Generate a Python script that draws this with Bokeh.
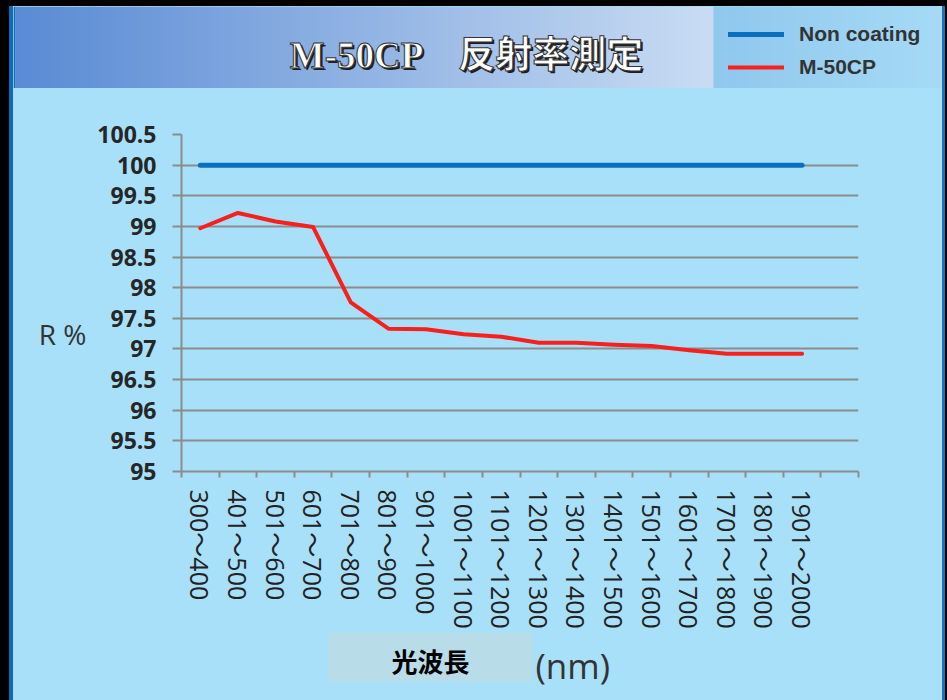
from bokeh.plotting import figure
from bokeh.layouts import column, row
from bokeh.models import (Range1d, FixedTicker, Label, Legend, LegendItem,
                          GlobalInlineStyleSheet)
from bokeh.embed import file_html
from bokeh.resources import INLINE

# ---------------- data ----------------
categories = ["300～400", "401～500", "501～600", "601～700", "701～800",
              "801～900", "901～1000", "1001～1100", "1101～1200", "1201～1300",
              "1301～1400", "1401～1500", "1501～1600", "1601～1700",
              "1701～1800", "1801～1900", "1901～2000"]
non_coating = [100, 100, 100, 100, 100, 100, 100, 100, 100, 100, 100, 100,
               100, 100, 100, 100, 100]
m50cp = [98.97, 99.22, 99.08, 98.99, 97.76, 97.33, 97.32, 97.24, 97.20,
         97.10, 97.10, 97.07, 97.05, 96.98, 96.92, 96.92, 96.92]
y_ticks = [95.0, 95.5, 96.0, 96.5, 97.0, 97.5, 98.0, 98.5, 99.0, 99.5,
           100.0, 100.5]
y_tick_labels = ["95", "95.5", "96", "96.5", "97", "97.5", "98", "98.5",
                 "99", "99.5", "100", "100.5"]
series_names = ["Non coating", "M-50CP"]
title_text = "M-50CP　反射率測定"
y_label = "R %"
x_label_box = "光波長"
x_label_unit = "(nm)"

# ---------------- style ----------------
PANEL = "#a9e0f9"
GRID = "#8c8c8c"
BLUE = "#0b6fbf"
RED = "#f8201c"
EDGE_BLUE = "#0e6cb4"
EDGE_BLUE_R = "#1a74ba"

# page geometry (pixels of the 947x700 page)
PAD_L, PAD_T, PAD_R = 13, 6, 5          # slide border drawn by the page background
TOTAL_W, TOTAL_H = 947, 700
IN_W = TOTAL_W - PAD_L - PAD_R          # 929
HEAD_B = 88
CHART_B = 632
LEFT_R = 90
FRAME_L, FRAME_R, FRAME_T, FRAME_B = 181, 858, 134, 471
HEAD_H = HEAD_B - PAD_T
MID_H = CHART_B - HEAD_B
BOT_H = TOTAL_H - CHART_B
LEFT_W = LEFT_R - PAD_L
CHART_W = IN_W - LEFT_W


def deco_fig(w, h, bg=PANEL):
    f = figure(width=w, height=h, output_backend="svg", toolbar_location=None,
               x_range=Range1d(0, w), y_range=Range1d(h, 0),
               x_axis_location=None, y_axis_location=None, min_border=0,
               background_fill_color=bg, border_fill_color=bg,
               outline_line_color=None)
    f.grid.visible = False
    return f


def boxes(f, ox, oy, rects):
    # rects in page pixels: (x0, y0, x1, y1, color)
    f.quad(left=[r[0] - ox for r in rects], right=[r[2] - ox for r in rects],
           top=[r[1] - oy for r in rects], bottom=[r[3] - oy for r in rects],
           fill_color=[r[4] for r in rects], line_color=None)


def lerp_hex(c0, c1, t):
    a = [int(c0[i:i + 2], 16) for i in (1, 3, 5)]
    b = [int(c1[i:i + 2], 16) for i in (1, 3, 5)]
    return "#%02x%02x%02x" % tuple(round(a[k] + (b[k] - a[k]) * t) for k in range(3))


def gradient_rects(x0, x1, y0, y1, c0, c1, step=6):
    n = (x1 - x0 + step - 1) // step
    out = []
    for i in range(n):
        a = x0 + i * step
        b = min(x1, a + step + 1)
        out.append((a, y0, b, y1, lerp_hex(c0, c1, i / max(1, n - 1))))
    return out


def label(f, ox, oy, text, x, y, **kw):
    f.add_layout(Label(x=x - ox, y=y - oy, text=text, **kw))


# ---------------- header ----------------
head = deco_fig(IN_W, HEAD_H, bg="#a6daf6")
rects = [(PAD_L, PAD_T, 15, HEAD_B, EDGE_BLUE)]
rects += gradient_rects(15, 713, PAD_T, HEAD_B, "#5a8bd4", "#c9dcf3")
rects += gradient_rects(713, 942, PAD_T, HEAD_B, "#90c7ed", "#a6daf6", step=8)
boxes(head, PAD_L, PAD_T, rects)

TITLE_FONT = "Liberation Serif, Noto Sans CJK JP"
has_outline = "text_outline_color" in Label.properties()
title_kw = dict(text_align="center", text_baseline="middle", text_font=TITLE_FONT,
                text_font_style="bold", text_font_size="37px")
label(head, PAD_L, PAD_T, title_text, 469, 57, text_color="#1e1e1e", **title_kw)
if not has_outline:
    for dx, dy in [(-1, -1), (1, 1), (-1, 1), (1, -1)]:
        label(head, PAD_L, PAD_T, title_text, 467 + dx, 55 + dy,
              text_color="#333333", **title_kw)
t = Label(x=467 - PAD_L, y=55 - PAD_T, text=title_text, text_color="#ffffff",
          **title_kw)
if has_outline:
    t.text_outline_color = "#333333"
head.add_layout(t)

# legend: its glyphs come from renderers carrying the two series' styles
lg_blue = head.line([-60, -50], [-60, -50], line_color=BLUE, line_width=5,
                    line_cap="round")
lg_red = head.line([-60, -50], [-60, -50], line_color=RED, line_width=4,
                   line_cap="round")
legend = Legend(items=[LegendItem(label=series_names[0], renderers=[lg_blue]),
                       LegendItem(label=series_names[1], renderers=[lg_red])],
                location=(728 - PAD_L, HEAD_B - 79), orientation="vertical",
                background_fill_alpha=0, border_line_color=None,
                padding=0, margin=0, spacing=9,
                glyph_width=56, glyph_height=22, label_height=22,
                label_standoff=15,
                label_text_font="Liberation Sans", label_text_font_style="bold",
                label_text_font_size="21px", label_text_color="#333333")
head.add_layout(legend)

# ---------------- left strip with "R %" ----------------
left = deco_fig(LEFT_W, MID_H)
label(left, PAD_L, HEAD_B, y_label, 62, 333, text_align="center",
      text_baseline="middle", text_font="Open Sans", text_font_size="28px",
      text_color="#333333")

# ---------------- chart ----------------
xs = [i + 0.5 for i in range(len(categories))]
p = figure(width=CHART_W, height=MID_H, output_backend="svg",
           toolbar_location=None,
           x_range=Range1d(0, len(categories) + 1),
           y_range=Range1d(y_ticks[0], y_ticks[-1]),
           min_border_left=FRAME_L - LEFT_R,
           min_border_right=(TOTAL_W - PAD_R) - FRAME_R,
           min_border_top=FRAME_T - HEAD_B,
           min_border_bottom=CHART_B - FRAME_B,
           background_fill_color=PANEL, border_fill_color=PANEL,
           outline_line_color=None)

xaxis = p.xaxis[0]
xaxis.ticker = FixedTicker(ticks=xs, minor_ticks=list(range(len(categories) + 2)))
xaxis.major_label_overrides = {x: c for x, c in zip(xs, categories)}
xaxis.major_tick_line_color = None
xaxis.major_tick_out = 6
xaxis.major_tick_in = 0
xaxis.minor_tick_line_color = GRID
xaxis.minor_tick_line_width = 2
xaxis.minor_tick_out = 6
xaxis.minor_tick_in = 0
xaxis.major_label_orientation = "vertical"
xaxis.major_label_standoff = 12
xaxis.major_label_text_font = "Open Sans, Noto Sans CJK JP"
xaxis.major_label_text_font_size = "25px"
xaxis.major_label_text_color = "#222222"

yaxis = p.yaxis[0]
yaxis.ticker = FixedTicker(ticks=y_ticks)
yaxis.major_label_overrides = {v: s for v, s in zip(y_ticks, y_tick_labels)}
yaxis.major_tick_line_color = GRID
yaxis.major_tick_line_width = 2
yaxis.major_tick_out = 9
yaxis.major_tick_in = 0
yaxis.minor_tick_line_color = None
yaxis.major_label_standoff = 16
yaxis.major_label_text_font = "Open Sans"
yaxis.major_label_text_font_style = "bold"
yaxis.major_label_text_font_size = "23px"
yaxis.major_label_text_color = "#262626"

for ax in (xaxis, yaxis):
    ax.axis_line_color = GRID
    ax.axis_line_width = 2

p.xgrid.visible = False
p.ygrid.ticker = yaxis.ticker
p.ygrid.grid_line_color = GRID
p.ygrid.grid_line_width = 2

p.line(xs, non_coating, line_color=BLUE, line_width=5, line_cap="round")
p.line(xs, m50cp, line_color=RED, line_width=4, line_cap="round",
       line_join="round")

# ---------------- bottom strip with axis title ----------------
bottom = deco_fig(IN_W, BOT_H)
boxes(bottom, PAD_L, CHART_B, [(328, CHART_B, 532, 681, "#b8dde9")])
label(bottom, PAD_L, CHART_B, x_label_box, 430, 660, text_align="center",
      text_baseline="middle", text_font="Noto Sans CJK JP",
      text_font_style="bold", text_font_size="26px", text_color="#000000")
label(bottom, PAD_L, CHART_B, x_label_unit, 535, 665, text_align="left",
      text_baseline="middle", text_font="Open Sans", text_font_size="35px",
      text_color="#333333")

layout = column(head, row(column(left), p), bottom)

page_css = """
html { background-color: #000000; }
body {
  padding: %dpx %dpx 0px %dpx !important;
  background-color: #000000;
  background-image: linear-gradient(#000000, #000000),
    linear-gradient(to right, #000000 0px, #000000 9px, %s 9px, %s %dpx,
      %s %dpx, %s calc(100%% - %dpx), %s calc(100%% - %dpx),
      %s calc(100%% - 2px), #000000 calc(100%% - 2px), #000000 100%%);
  background-size: 100%% %dpx, 100%% 100%%;
  background-repeat: no-repeat, no-repeat;
  background-position: 0 0, 0 0;
}
""" % (PAD_T, PAD_R, PAD_L, EDGE_BLUE, EDGE_BLUE, PAD_L, PANEL, PAD_L, PANEL,
       PAD_R, EDGE_BLUE_R, PAD_R, EDGE_BLUE_R, PAD_T)
layout.stylesheets = [GlobalInlineStyleSheet(css=page_css)]

open("out.html", "w").write(file_html(layout, INLINE))
